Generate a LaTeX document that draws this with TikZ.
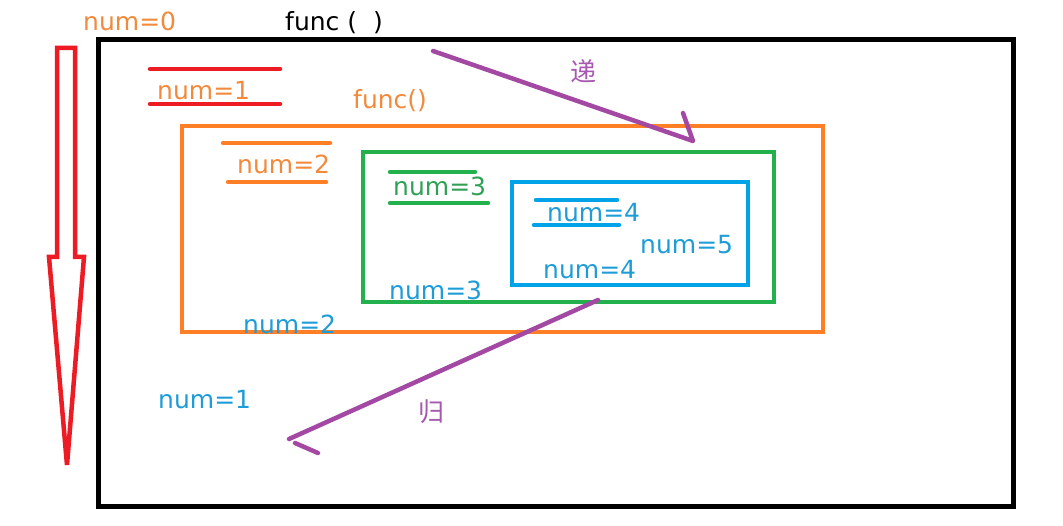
\documentclass[tikz,border=0pt]{standalone}
\usepackage{fontspec}
\setmainfont{DejaVu Sans}
\newfontfamily\cjk{Noto Sans CJK SC}
\definecolor{pred}{HTML}{ED1C24}
\definecolor{porange}{HTML}{FF7F27}
\definecolor{torange}{HTML}{F28A3C}
\definecolor{pgreen}{HTML}{22B14C}
\definecolor{tgreen}{HTML}{2FA055}
\definecolor{pblue}{HTML}{00A2E8}
\definecolor{tblue}{HTML}{1E9CD8}
\definecolor{ppurple}{HTML}{A349A4}
\definecolor{tpurple}{HTML}{A659B0}
\tikzset{
  lbl/.style={anchor=base west, inner sep=0pt, font=\fontsize{25}{30}\selectfont},
  cjklbl/.style={inner sep=0pt, font=\cjk\fontsize{26}{30}\selectfont, text=tpurple},
  mark line/.style={line width=4.5pt, line cap=round},
  box/.style={line width=4.5pt},
  stroke/.style={line width=4.5pt, ppurple, line cap=round, line join=round}
}
\begin{document}
\begin{tikzpicture}[x=1pt,y=-1pt]
\useasboundingbox[fill=white] (0,0) rectangle (1063,526);
% main boxes
\draw[box, black, line width=5pt] (98,40) rectangle (1013,506);
\draw[box, porange] (182,126) rectangle (823,332);
\draw[box, pgreen] (363,152) rectangle (774,302);
\draw[box, pblue] (512,182) rectangle (748,285);
% red hollow arrow
\draw[pred, line width=4.5pt, line join=miter] (57,48) -- (75,48) -- (75,257) -- (84,257) -- (67,465) -- (49,257) -- (57,257) -- cycle;
% labels
\node[lbl, text=torange] (n0) at (83,31) {num=0};
\node[lbl, text=black] (f0) at (285,31) {func (\ \ )};
\node[lbl, text=torange] (n1) at (157,100) {num=1};
\node[lbl, text=torange] (f1) at (353,109) {func()};
\node[lbl, text=torange] (n2) at (237,174) {num=2};
\node[lbl, text=tgreen] (n3) at (393,196) {num=3};
\node[lbl, text=tblue] (n4) at (547,222) {num=4};
\node[lbl, text=tblue] (n5) at (640,254) {num=5};
\node[lbl, text=tblue] (n4b) at (543,279) {num=4};
\node[lbl, text=tblue] (n3b) at (389,300) {num=3};
\node[lbl, text=tblue] (n2b) at (243,334) {num=2};
\node[lbl, text=tblue] (n1b) at (158,409) {num=1};
% under/over lines
\draw[mark line, pred] (150,69) -- (280,69);
\draw[mark line, pred] (150,104) -- (280,104);
\draw[mark line, porange] (223,143) -- (330,143);
\draw[mark line, porange] (228,182) -- (326,182);
\draw[mark line, pgreen] (390,172) -- (475,172);
\draw[mark line, pgreen] (390,203) -- (488,203);
\draw[mark line, pblue] (536,200) -- (617,200);
\draw[mark line, pblue] (534,225) -- (619,225);
% recursion arrows
\coordinate (d1) at (433,51);
\coordinate (d2) at (693,141);
\coordinate (d3) at (683,113);
\draw[stroke] (d1) -- (d2) -- (d3);
\node[cjklbl] (di) at (583,71) {递};
\coordinate (g1) at (598,300);
\coordinate (g2) at (289,439);
\coordinate (g3) at (295,443);
\coordinate (g4) at (318,453);
\draw[stroke] (g1) -- (g2);
\draw[stroke] (g3) -- (g4);
\node[cjklbl] (gui) at (431,412) {归};
\end{tikzpicture}
\end{document}
